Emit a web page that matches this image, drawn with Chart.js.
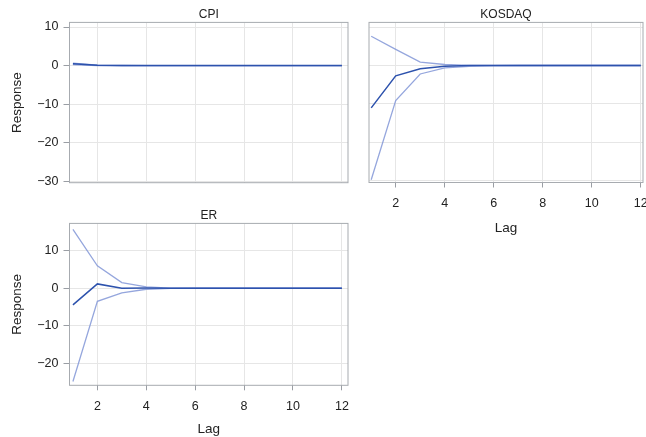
<!DOCTYPE html>
<html>
<head>
<meta charset="utf-8">
<script src="https://cdn.jsdelivr.net/npm/chart.js@4"></script>
<style>
  html, body { margin: 0; padding: 0; background: #fff; }
  body { width: 646px; height: 437px; position: relative; overflow: hidden; }
  .panel { position: absolute; }
</style>
</head>
<body>
<div class="panel" style="left:0;top:0;width:352px;height:190px"><canvas id="cpi"></canvas></div>
<div class="panel" style="left:352px;top:0;width:294px;height:240px"><canvas id="kosdaq"></canvas></div>
<div class="panel" style="left:0;top:201px;width:352px;height:236px"><canvas id="er"></canvas></div>
<script>
// impulse responses
var lags = [1, 2, 3, 4, 5, 6, 7, 8, 9, 10, 11, 12];

var cpiResp  = [0.45, 0.05, 0, 0, 0, 0, 0, 0, 0, 0, 0, 0];
var cpiUpper = [0.65, 0.1, 0.02, 0, 0, 0, 0, 0, 0, 0, 0, 0];
var cpiLower = [0.25, 0, -0.02, 0, 0, 0, 0, 0, 0, 0, 0, 0];

var kosdaqResp  = [-11.0, -2.7, -0.87, -0.2, -0.03, 0, 0, 0, 0, 0, 0, 0];
var kosdaqUpper = [7.6, 4.2, 0.87, 0.26, 0.05, 0, 0, 0, 0, 0, 0, 0];
var kosdaqLower = [-29.7, -9.1, -2.2, -0.6, -0.2, -0.02, 0, 0, 0, 0, 0, 0];

var erResp  = [-4.45, 1.15, 0.0, 0.05, 0, 0, 0, 0, 0, 0, 0, 0];
var erUpper = [15.7, 6.0, 1.5, 0.35, 0.05, 0, 0, 0, 0, 0, 0, 0];
var erLower = [-24.9, -3.5, -1.25, -0.27, -0.05, 0, 0, 0, 0, 0, 0, 0];

var xTicks = [2, 4, 6, 8, 10, 12];
var yTicksTop = [-30, -20, -10, 0, 10];
var yTicksEr = [-20, -10, 0, 10];

var bandColor = 'rgba(130, 150, 215, 0.85)';
var lineColor = '#2d52ad';
var boxColor = '#a7abb0';
var gridColor = '#e6e6e6';
var tickColor = '#9a9ea4';
var textColor = '#222';
var font = 'Liberation Sans, Arial, sans-serif';

// draws the gray frame round the plot area
var boxPlugin = {
    id: 'box',
    afterDraw: function(chart) {
        var a = chart.chartArea, ctx = chart.ctx;
        ctx.save();
        ctx.strokeStyle = boxColor;
        ctx.lineWidth = 1;
        ctx.strokeRect(a.left, a.top, a.right - a.left, a.bottom - a.top);
        ctx.restore();
    }
};

function toPoints(vals) {
    return vals.map(function(v, i) { return { x: lags[i], y: v }; });
}

function makePanel(id, title, resp, upper, lower, opt) {
    var ctx = document.getElementById(id).getContext('2d');
    return new Chart(ctx, {
        type: 'line',
        data: {
            // first dataset is drawn on top
            datasets: [{
                data: toPoints(resp),
                borderColor: lineColor,
                borderWidth: 1.5,
                pointRadius: 0,
                fill: false
            }, {
                data: toPoints(upper),
                borderColor: bandColor,
                borderWidth: 1.3,
                pointRadius: 0,
                fill: false
            }, {
                data: toPoints(lower),
                borderColor: bandColor,
                borderWidth: 1.3,
                pointRadius: 0,
                fill: false
            }]
        },
        options: {
            responsive: true,
            maintainAspectRatio: false,
            animation: false,
            events: [],
            layout: { padding: { right: opt.padRight, bottom: 0, top: 0, left: 0 } },
            plugins: {
                legend: { display: false },
                tooltip: { enabled: false },
                title: {
                    display: true,
                    text: title,
                    fullSize: false,
                    color: textColor,
                    font: { family: font, size: 12, weight: 'normal' },
                    padding: { top: 7, bottom: 1 }
                }
            },
            scales: {
                x: {
                    type: 'linear',
                    min: opt.xMin,
                    max: opt.xMax,
                    afterBuildTicks: function(s) { s.ticks = xTicks.map(function(v) { return { value: v }; }); },
                    afterFit: function(s) { s.height = opt.xHeight; s.paddingLeft = 0; s.paddingRight = 0; },
                    border: { display: false },
                    grid: {
                        color: gridColor,
                        drawTicks: opt.xLabels,
                        tickLength: 5,
                        tickColor: tickColor
                    },
                    ticks: {
                        display: opt.xLabels,
                        color: textColor,
                        padding: 9,
                        maxRotation: 0,
                        font: { family: font, size: 12.5 }
                    },
                    title: {
                        display: opt.xLabels,
                        text: 'Lag',
                        color: textColor,
                        font: { family: font, size: 13.5 },
                        padding: { top: 0, bottom: opt.lagPad }
                    }
                },
                y: {
                    min: opt.yMin,
                    max: opt.yMax,
                    afterBuildTicks: function(s) { s.ticks = opt.yTicks.map(function(v) { return { value: v }; }); },
                    afterFit: function(s) { s.width = opt.yWidth; s.paddingTop = 0; s.paddingBottom = 0; },
                    border: { display: false },
                    grid: {
                        color: gridColor,
                        drawTicks: opt.yLabels,
                        tickLength: 6,
                        tickColor: tickColor
                    },
                    ticks: {
                        display: opt.yLabels,
                        color: textColor,
                        padding: 5,
                        font: { family: font, size: 12.5 },
                        callback: function(v) { return String(v).replace('-', '\u2212'); }
                    },
                    title: {
                        display: opt.yLabels,
                        text: 'Response',
                        color: textColor,
                        font: { family: font, size: 13.5 },
                        padding: { top: 9, bottom: 0 }
                    }
                }
            }
        },
        plugins: [boxPlugin]
    });
}

makePanel('cpi', 'CPI', cpiResp, cpiUpper, cpiLower, {
    padRight: 4, xHeight: 7.3, yWidth: 69.5, xLabels: false, yLabels: true, lagPad: 0,
    xMin: 0.86, xMax: 12.25, yMin: -30.4, yMax: 11.2, yTicks: yTicksTop
});
makePanel('kosdaq', 'KOSDAQ', kosdaqResp, kosdaqUpper, kosdaqLower, {
    padRight: 3, xHeight: 57.5, yWidth: 17, xLabels: true, yLabels: false, lagPad: 4,
    xMin: 0.91, xMax: 12.09, yMin: -30.4, yMax: 11.2, yTicks: yTicksTop
});
makePanel('er', 'ER', erResp, erUpper, erLower, {
    padRight: 4, xHeight: 51.7, yWidth: 69.5, xLabels: true, yLabels: true, lagPad: 0,
    xMin: 0.86, xMax: 12.25, yMin: -25.9, yMax: 17.3, yTicks: yTicksEr
});
</script>
</body>
</html>
